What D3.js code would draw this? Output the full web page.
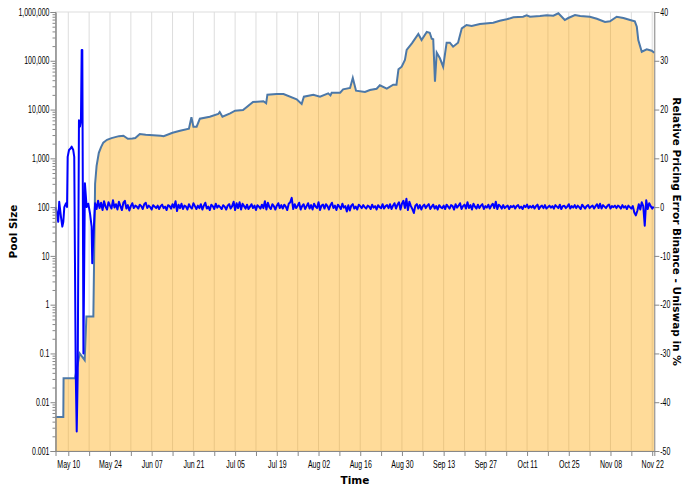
<!DOCTYPE html>
<html>
<head>
<meta charset="utf-8">
<script src="https://cdn.jsdelivr.net/npm/d3@7"></script>
<style>
  body { margin: 0; background: #fff; }
  svg { display: block; }
  .tick text { font-family: "Liberation Sans", Arial, sans-serif; font-size: 10px; fill: #000; }
  .title { font-family: "DejaVu Sans", Verdana, sans-serif; font-size: 10.5px; font-weight: bold; fill: #000; }
</style>
</head>
<body>
<svg width="684" height="486"></svg>
<script>
// pool size (log scale, left axis)
const poolTime = [
  "2020-05-05 17:00","2020-05-08 08:00","2020-05-08 10:00","2020-05-12 06:00","2020-05-13 20:00",
  "2020-05-15 12:00","2020-05-16 02:00","2020-05-18 10:00","2020-05-19 00:00","2020-05-19 12:00",
  "2020-05-20 06:00","2020-05-21 00:00","2020-05-21 18:00","2020-05-23 00:00","2020-05-24 12:00",
  "2020-05-27 00:00","2020-05-28 12:00","2020-05-30 00:00","2020-05-31 12:00","2020-06-01 12:00",
  "2020-06-03 00:00","2020-06-05 00:00","2020-06-07 12:00","2020-06-10 00:00","2020-06-11 00:00",
  "2020-06-14 00:00","2020-06-16 12:00","2020-06-19 12:00","2020-06-20 08:00","2020-06-21 00:00",
  "2020-06-22 02:00","2020-06-23 04:00","2020-06-26 12:00","2020-06-29 08:00","2020-06-29 20:00",
  "2020-06-30 18:00","2020-07-03 08:00","2020-07-05 00:00","2020-07-07 16:00","2020-07-11 00:00",
  "2020-07-14 12:00","2020-07-15 10:00","2020-07-15 20:00","2020-07-19 00:00","2020-07-21 06:00",
  "2020-07-25 16:00","2020-07-27 08:00","2020-07-28 02:00","2020-07-31 06:00","2020-08-02 12:00",
  "2020-08-05 06:00","2020-08-06 00:00","2020-08-06 10:00","2020-08-09 06:00","2020-08-10 06:00",
  "2020-08-12 14:00","2020-08-13 12:00","2020-08-14 14:00","2020-08-17 14:00","2020-08-19 06:00",
  "2020-08-21 12:00","2020-08-22 14:00","2020-08-24 22:00","2020-08-27 02:00","2020-08-28 04:00",
  "2020-08-28 20:00","2020-08-29 22:00","2020-08-31 00:00","2020-08-31 14:00","2020-09-02 08:00",
  "2020-09-04 12:00","2020-09-05 14:00","2020-09-07 08:00","2020-09-08 08:00","2020-09-09 00:00",
  "2020-09-09 12:00","2020-09-10 02:00","2020-09-10 16:00","2020-09-11 18:00","2020-09-12 20:00",
  "2020-09-14 00:00","2020-09-15 02:00","2020-09-16 04:00","2020-09-17 20:00","2020-09-19 02:00",
  "2020-09-20 16:00","2020-09-22 10:00","2020-09-25 04:00","2020-09-29 16:00","2020-10-01 20:00",
  "2020-10-04 04:00","2020-10-06 10:00","2020-10-09 16:00","2020-10-10 20:00","2020-10-12 00:00",
  "2020-10-15 08:00","2020-10-17 14:00","2020-10-19 20:00","2020-10-21 12:00","2020-10-23 16:00",
  "2020-10-24 20:00","2020-10-27 02:00","2020-10-28 20:00","2020-11-01 02:00","2020-11-03 10:00",
  "2020-11-06 04:00","2020-11-07 20:00","2020-11-10 02:00","2020-11-12 08:00","2020-11-14 14:00",
  "2020-11-16 04:00","2020-11-16 20:00","2020-11-17 08:00","2020-11-18 12:00","2020-11-20 04:00",
  "2020-11-21 20:00","2020-11-22 17:00"
];
const poolSize = [
  0.005, 0.005, 0.031, 0.031, 0.1,
  0.073, 0.57, 0.57, 300, 700,
  1300, 1700, 2100, 2400, 2600,
  2850, 2900, 2525, 2550, 2600,
  3150, 3050, 2965, 2900, 2850,
  3350, 3680, 4050, 6930, 4450,
  4450, 6490, 7130, 8100, 8910,
  7130, 8380, 9460, 9790, 14290,
  14760, 13430, 20150, 20830, 20830,
  16220, 13000, 18340, 20150, 18340,
  21530, 19500, 22150, 22150, 26000,
  27660, 44340, 24340, 22900, 25180,
  26750, 31400, 26750, 32300, 32300,
  66800, 75600, 103700, 166300, 228000,
  354000, 266600, 389000, 376000, 283500,
  275600, 37200, 146300, 112500, 75600,
  234600, 234600, 194200, 234600, 463000,
  541000, 516000, 567000, 603000, 663000,
  708000, 778000, 800000, 855000, 800000,
  827000, 855000, 839000, 940000, 685000,
  753000, 867000, 827000, 800000, 728000,
  623000, 644000, 800000, 753000, 685000,
  644000, 499000, 266600, 153400, 171800,
  160700, 146300
];

// relative pricing error in % (right axis), first days irregular
const errEarlyTime = [
  "2020-05-05 17:00","2020-05-06 03:00","2020-05-06 15:00","2020-05-06 23:00","2020-05-07 13:00",
  "2020-05-08 00:00","2020-05-08 08:00","2020-05-08 16:00","2020-05-09 06:00","2020-05-09 14:00",
  "2020-05-09 19:00","2020-05-10 06:00","2020-05-10 18:00","2020-05-11 03:00","2020-05-11 16:00",
  "2020-05-12 00:00","2020-05-12 12:00","2020-05-12 20:00","2020-05-13 04:00","2020-05-13 14:00",
  "2020-05-13 22:00","2020-05-14 06:00","2020-05-14 12:00","2020-05-14 17:00","2020-05-15 02:00",
  "2020-05-15 14:00","2020-05-16 04:00","2020-05-16 17:00","2020-05-17 07:00","2020-05-17 20:00",
  "2020-05-18 01:00","2020-05-18 09:00","2020-05-18 18:00"
];
const errEarlyValue = [
  0.0, -1.0, -3.0, 1.1, -2.0,
  -4.0, -3.0, 0.0, 0.8, 0.0,
  10.3, 11.7, 12.0, 12.4, 11.7,
  10.3, -34, -46, -34, 17.8,
  16.5, 17.8, 32.2, 32.2, -30,
  4.9, 0.0, 0.7, -1.3, -4.0,
  -11.5, -6.8, -2.0
];
// from May 19 on, one value every 12 hours
const errStart = "2020-05-19 00:00";
const errValues = [
  0.8,-0.4,1.3,-0.2,0.9,-0.6,1.2,0.1,-0.5,1.0,0.3,-0.3,1.4,-0.1,
  0.6,-0.5,1.1,0.2,-0.6,0.9,1.3,-0.3,0.4,-0.7,0.2,0.8,-0.2,0.3,
  0.1,-0.3,0.5,0.2,-0.4,0.6,0.9,-0.2,0.3,0.0,-0.5,0.4,0.1,-0.2,
  0.3,-0.4,0.2,0.5,-0.2,0.1,-0.6,0.4,0.2,-0.3,0.6,-0.1,1.2,-0.8,
  0.5,-0.2,0.7,-0.4,0.3,0.1,-0.5,0.6,0.0,-0.3,0.8,0.2,-0.4,0.3,
  -0.2,0.6,-0.5,0.3,0.9,-0.3,0.1,-0.6,0.5,0.2,-0.4,0.7,-0.1,0.3,
  0.0,-0.4,0.4,0.1,-0.5,0.3,0.6,-0.3,0.2,1.1,-0.6,0.8,-0.2,1.0,
  -0.5,0.7,0.2,-0.3,0.5,-0.4,0.1,0.6,-0.2,0.3,-0.6,0.4,0.1,-0.3,
  0.5,-0.2,1.2,-0.5,0.9,0.0,-0.4,0.6,0.2,-0.5,0.3,0.8,-0.2,0.4,
  -0.3,0.5,0.1,-0.6,0.7,1.0,1.9,-0.4,0.6,-0.2,0.3,0.9,-0.5,0.2,
  0.6,-0.4,0.2,0.8,-0.3,0.4,-0.5,0.7,0.1,-0.2,1.0,-0.6,0.3,0.5,
  -0.3,0.6,0.2,-0.5,0.4,0.9,-0.2,0.3,-0.6,0.5,0.1,-0.4,0.7,-0.1,
  0.2,-0.9,0.4,-0.7,0.3,0.6,-0.3,0.1,-0.5,0.5,0.2,-0.2,0.4,0.0,
  -0.3,0.3,0.1,-0.4,0.5,-0.1,0.2,-0.5,0.4,0.0,-0.2,0.6,-0.3,0.2,
  0.4,-0.2,0.6,-0.4,0.3,0.8,-0.3,0.5,1.0,-0.5,0.7,1.3,-0.2,1.7,
  -0.6,1.1,0.2,-0.4,-1.2,0.3,0.6,-0.3,0.4,-0.5,0.2,0.5,-0.2,0.3,
  0.6,-0.4,0.1,0.5,-0.3,0.2,-0.5,0.4,0.0,-0.2,0.3,-0.4,0.5,0.1,
  -0.3,0.4,0.2,-0.5,0.6,-0.1,0.3,0.8,-0.4,0.2,0.5,-0.3,1.0,-0.2,
  0.4,-0.5,0.7,0.1,-0.3,0.5,-0.2,0.3,0.6,-0.4,0.2,-0.1,0.5,-0.3,
  0.3,0.7,-0.2,1.1,-0.4,0.5,0.2,-0.3,0.4,-0.2,0.1,0.3,-0.4,0.2,
  0.0,0.3,-0.3,0.2,0.4,-0.2,0.1,-0.4,0.3,0.0,0.5,-0.2,0.2,-0.1,
  0.3,-0.3,0.2,0.5,-0.4,0.1,0.3,-0.2,0.4,-0.3,0.0,0.3,-0.1,0.2,
  -0.3,0.4,0.1,-0.2,0.5,-0.4,0.2,0.3,-0.2,0.1,0.6,-0.3,0.2,-0.1,
  0.4,-0.2,0.3,0.0,-0.4,0.5,0.1,-0.3,0.2,0.4,-0.2,0.1,0.3,-0.3,
  0.2,0.6,-0.2,0.7,-0.3,0.4,0.1,-0.2,0.3,0.5,-0.3,0.2,0.0,0.3,
  -0.2,0.3,0.1,-0.3,0.4,-0.1,0.2,-0.4,0.3,0.0,-0.3,0.2,-1.1,-1.7,
  -0.8,0.6,-0.5,1.0,0.2,-3.8,1.4,-0.4,0.8,0.2,-0.3,0.1
];

const leftTicks = [0.001, 0.01, 0.1, 1, 10, 100, 1000, 10000, 100000, 1000000];
const rightTicks = [40, 30, 20, 10, 0, -10, -20, -30, -40, -50];

const parse = d3.timeParse("%Y-%m-%d %H:%M");
const pool = poolTime.map((t, i) => ({t: parse(t), v: poolSize[i]}));
const t0 = parse(errStart);
const err = errEarlyTime.map((t, i) => ({t: parse(t), v: errEarlyValue[i]}))
  .concat(errValues.map((v, i) => ({t: d3.timeHour.offset(t0, 12 * i), v: v})));

const L = 55.5, R = 654.3, T = 12, B = 451;
const SX = 0.7; // tick labels are a narrow face
const svg = d3.select("svg");

const x = d3.scaleTime()
  .domain(d3.extent(pool, d => d.t))
  .range([L, R]);
const yPool = d3.scaleLog().domain([0.001, 1000000]).range([B, T]);
const yErr = d3.scaleLinear().domain([-50, 40]).range([B, T]);

const weeks = d3.timeWeek.range(x.domain()[0], x.domain()[1]);
const fmt = d3.timeFormat("%b %d");
const first = weeks[0];

// view border + grid
svg.append("rect")
  .attr("x", L).attr("y", T).attr("width", R - L).attr("height", B - T)
  .attr("fill", "none").attr("stroke", "#ddd");
svg.append("g")
  .selectAll("line")
  .data(weeks)
  .enter()
  .append("line")
  .attr("x1", d => x(d)).attr("x2", d => x(d))
  .attr("y1", T).attr("y2", B)
  .attr("stroke", "#ddd");

// pool area + line
svg.append("path")
  .datum(pool)
  .attr("fill", "orange")
  .attr("fill-opacity", 0.4)
  .attr("d", d3.area().x(d => x(d.t)).y0(B).y1(d => yPool(d.v)));
svg.append("path")
  .datum(pool)
  .attr("fill", "none")
  .attr("stroke", "#4c78a8")
  .attr("stroke-width", 2)
  .attr("d", d3.line().x(d => x(d.t)).y(d => yPool(d.v)));

// error line
svg.append("path")
  .datum(err)
  .attr("fill", "none")
  .attr("stroke", "#0000ff")
  .attr("stroke-width", 2)
  .attr("stroke-linejoin", "round")
  .attr("d", d3.line().x(d => x(d.t)).y(d => yErr(d.v)));

// axes
function styleAxis(g) {
  g.select(".domain").attr("stroke", "#888");
  g.selectAll(".tick line").attr("stroke", "#888");
  g.selectAll(".tick text").each(function() {
    const t = d3.select(this);
    t.attr("x", (+t.attr("x") || 0) / SX).attr("transform", `scale(${SX},1)`);
  });
}

const minor = [];
leftTicks.slice(0, -1).forEach(p => { for (let k = 2; k <= 9; k++) minor.push(p * k); });
svg.append("g")
  .attr("transform", `translate(${L},0)`)
  .call(d3.axisLeft(yPool).tickValues(minor).tickSize(3).tickFormat(""))
  .call(styleAxis);
svg.append("g")
  .attr("transform", `translate(${L},0)`)
  .call(d3.axisLeft(yPool).tickValues(leftTicks).tickSize(5).tickPadding(1)
    .tickFormat(d => d < 1 ? String(d) : d3.format(",")(d)))
  .call(styleAxis);

svg.append("g")
  .attr("transform", `translate(${R},0)`)
  .call(d3.axisRight(yErr).tickValues(rightTicks).tickSize(5).tickPadding(1)
    .tickFormat(d => String(d)))
  .call(styleAxis);

svg.append("g")
  .attr("transform", `translate(0,${B})`)
  .call(d3.axisBottom(x).tickValues(weeks).tickSize(5).tickPadding(5)
    .tickFormat(d => Math.round((d - first) / 864e5 / 7) % 2 === 0 ? fmt(d) : ""))
  .call(styleAxis);

// titles
svg.append("text").attr("class", "title")
  .attr("transform", `translate(17,${(T + B) / 2}) rotate(-90)`)
  .attr("text-anchor", "middle")
  .text("Pool Size");
svg.append("text").attr("class", "title")
  .attr("transform", `translate(673,${(T + B) / 2}) rotate(90)`)
  .attr("text-anchor", "middle")
  .text("Relative Pricing Error Binance - Uniswap in %");
svg.append("text").attr("class", "title")
  .attr("x", (L + R) / 2).attr("y", 484)
  .attr("text-anchor", "middle")
  .text("Time");
</script>
</body>
</html>
